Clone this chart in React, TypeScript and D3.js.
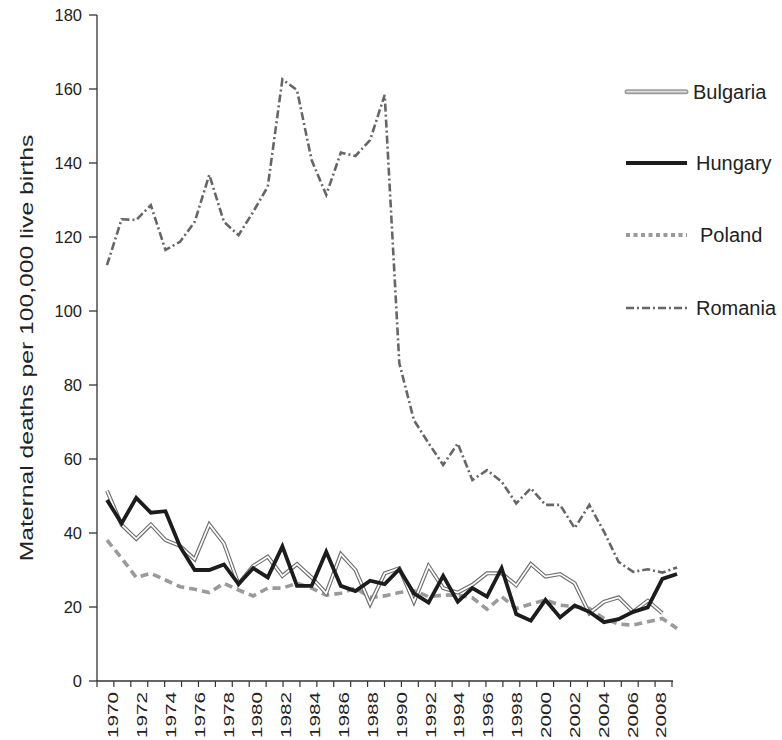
import React from "react";
import * as d3 from "d3";

const years = [
  1970, 1971, 1972, 1973, 1974, 1975, 1976, 1977, 1978, 1979,
  1980, 1981, 1982, 1983, 1984, 1985, 1986, 1987, 1988, 1989,
  1990, 1991, 1992, 1993, 1994, 1995, 1996, 1997, 1998, 1999,
  2000, 2001, 2002, 2003, 2004, 2005, 2006, 2007, 2008, 2009,
];

const bulgaria = [
  51.4, 42.2, 38.4, 42.3, 38.1, 36.5, 32.9, 42.3, 37.2, 26.2,
  31.1, 33.6, 28.4, 31.6, 28.0, 23.7, 34.3, 30.0, 20.8, 29.1,
  30.5, 21.4, 31.1, 25.1, 23.9, 26.0, 29.1, 29.1, 25.9, 31.6,
  28.2, 28.9, 26.4, 18.3, 21.4, 22.6, 18.7, 21.7, 18.3, null,
];

const hungary = [
  48.9, 42.6, 49.5, 45.5, 45.9, 36.3, 30.0, 30.0, 31.5, 26.2,
  30.5, 28.0, 36.4, 25.7, 25.7, 34.9, 25.7, 24.3, 27.1, 26.2,
  30.2, 23.7, 21.2, 28.4, 21.4, 25.1, 22.8, 30.5, 18.1, 16.3,
  21.9, 17.2, 20.4, 18.7, 15.9, 16.7, 18.7, 19.9, 27.6, 28.9,
];

const poland = [
  38.1, 33.2, 28.0, 29.1, 27.3, 25.5, 24.8, 23.9, 26.4, 24.6,
  23.0, 25.1, 25.1, 26.4, 25.1, 23.2, 23.7, 25.1, 22.6, 23.0,
  23.9, 24.4, 22.8, 23.2, 23.2, 22.5, 19.4, 22.8, 19.6, 20.8,
  21.9, 20.5, 20.1, 19.6, 16.9, 15.4, 15.1, 16.0, 16.9, 14.2,
];

const romania = [
  112.4, 124.8, 124.6, 128.6, 116.5, 118.7, 124.1, 136.8, 124.1, 120.5,
  126.8, 133.6, 162.6, 159.7, 140.8, 131.4, 142.8, 141.9, 146.2, 158.4,
  85.9, 70.5, 64.3, 58.4, 64.2, 54.3, 57.0, 53.9, 48.0, 52.1,
  47.6, 47.6, 41.3, 47.6, 40.4, 32.2, 29.5, 30.2, 29.3, 30.7,
];

const yTicks = [0, 20, 40, 60, 80, 100, 120, 140, 160, 180];
const xLabelYears = [
  1970, 1972, 1974, 1976, 1978, 1980, 1982, 1984, 1986, 1988,
  1990, 1992, 1994, 1996, 1998, 2000, 2002, 2004, 2006, 2008,
];
const legendNames = ["Bulgaria", "Hungary", "Poland", "Romania"];

const FONT = "'Liberation Sans', Arial, Helvetica, sans-serif";

export default function App() {
  const W = 782;
  const H = 740;
  const axisX = 97;
  const axisY = 681;

  const x = d3.scaleLinear().domain([1970, 2009]).range([107, 677]);
  const labelX = d3.scaleLinear().domain([1970, 2008]).range([113.3, 661.7]);
  const tickScale = d3.scaleLinear().domain([0, 34]).range([97, 672]);
  const y = d3.scaleLinear().domain([0, 180]).range([681, 15]);

  const lineGen = d3
    .line<[number, number | null]>()
    .defined((d) => d[1] != null)
    .x((d) => x(d[0]))
    .y((d) => y(d[1] as number));

  const pts = (vals: (number | null)[]) =>
    years.map((yr, i) => [yr, vals[i]] as [number, number | null]);

  const romPath = lineGen(pts(romania)) || "";
  const polPath = lineGen(pts(poland)) || "";
  const bulPath = lineGen(pts(bulgaria)) || "";
  const hunPath = lineGen(pts(hungary)) || "";

  const legendY = [91.7, 163, 235, 308];
  const legendTextX = [693, 696, 700, 696];

  const axisColor = "#333";

  return (
    <svg
      width={W}
      height={H}
      style={{ position: "absolute", left: 0, top: 0, background: "#fff" }}
    >
      <rect x={0} y={0} width={W} height={H} fill="#fff" />
      {/* Y axis */}
      <line x1={axisX} y1={15} x2={axisX} y2={axisY} stroke={axisColor} strokeWidth={1.3} />
      {yTicks.map((t) => (
        <g key={t}>
          <line x1={89} x2={axisX} y1={y(t)} y2={y(t)} stroke={axisColor} strokeWidth={1.3} />
          <text
            x={82}
            y={y(t)}
            textAnchor="end"
            dominantBaseline="central"
            fontFamily={FONT}
            fontSize={16.5}
            fill="#222"
          >
            {t}
          </text>
        </g>
      ))}
      {/* X axis */}
      <line x1={axisX} y1={axisY} x2={673} y2={axisY} stroke={axisColor} strokeWidth={1.3} />
      {d3.range(0, 35).map((k) => (
        <line
          key={k}
          x1={tickScale(k)}
          x2={tickScale(k)}
          y1={axisY}
          y2={axisY + 6}
          stroke={axisColor}
          strokeWidth={1.2}
        />
      ))}
      {xLabelYears.map((yr) => (
        <text
          key={yr}
          transform={`translate(${labelX(yr)},692) rotate(-90) scale(1.48,1)`}
          textAnchor="end"
          dominantBaseline="central"
          fontFamily={FONT}
          fontSize={14}
          fill="#222"
        >
          {yr}
        </text>
      ))}
      {/* Y axis title */}
      <text
        transform={`translate(27,348) rotate(-90) scale(1.3,1)`}
        textAnchor="middle"
        dominantBaseline="central"
        fontFamily={FONT}
        fontSize={19}
        fill="#222"
      >
        Maternal deaths per 100,000 live births
      </text>

      {/* Lines */}
      <path d={romPath} fill="none" stroke="#666" strokeWidth={2.6} strokeDasharray="8,3,2,3" />
      <path d={polPath} fill="none" stroke="#9a9a9a" strokeWidth={3.6} strokeDasharray="8,5" />
      <path d={bulPath} fill="none" stroke="#6e6e6e" strokeWidth={4} strokeLinejoin="miter" />
      <path d={bulPath} fill="none" stroke="#fff" strokeWidth={1.7} strokeLinejoin="miter" />
      <path d={hunPath} fill="none" stroke="#1c1c1c" strokeWidth={3.8} strokeLinejoin="miter" />

      {/* Legend */}
      <g>
        <line x1={627} x2={686} y1={legendY[0]} y2={legendY[0]} stroke="#9a9a9a" strokeWidth={5} strokeLinecap="round" />
        <line x1={627} x2={686} y1={legendY[0]} y2={legendY[0]} stroke="#dcdcdc" strokeWidth={1.8} strokeLinecap="round" />
        <line x1={626} x2={687} y1={legendY[1]} y2={legendY[1]} stroke="#1c1c1c" strokeWidth={4} />
        <line x1={626} x2={687} y1={legendY[2]} y2={legendY[2]} stroke="#9a9a9a" strokeWidth={4} strokeDasharray="4,3.5" />
        <line x1={626} x2={687} y1={legendY[3]} y2={legendY[3]} stroke="#666" strokeWidth={2.6} strokeDasharray="8,3,2,3" />
        {legendNames.map((n, i) => (
          <text
            key={n}
            x={legendTextX[i]}
            y={legendY[i]}
            dominantBaseline="central"
            fontFamily={FONT}
            fontSize={20}
            fill="#222"
          >
            {n}
          </text>
        ))}
      </g>
    </svg>
  );
}
